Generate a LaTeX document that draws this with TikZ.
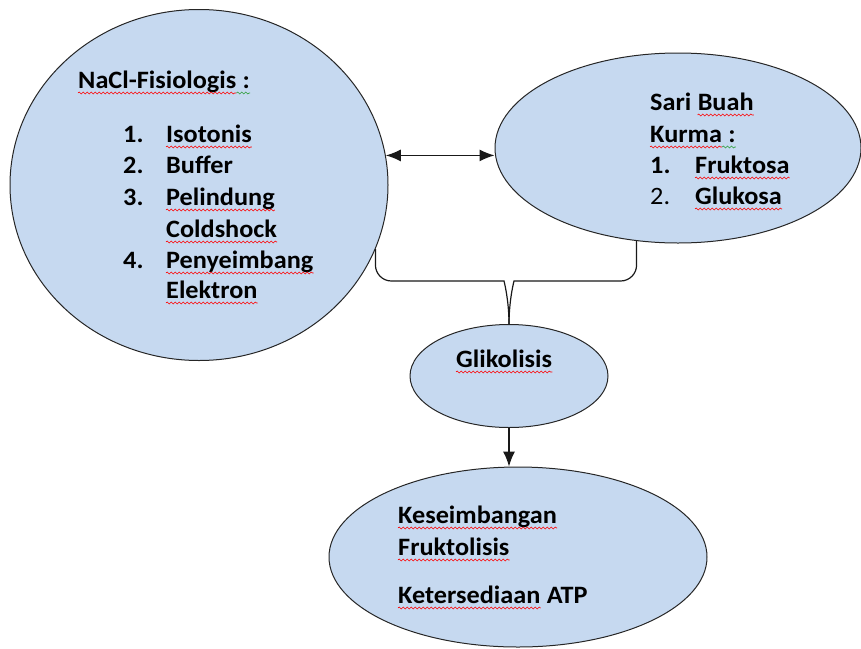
\documentclass[tikz,border=0pt]{standalone}
\usepackage{fontspec}
\setmainfont{Carlito}[FakeStretch=1.05]
\usetikzlibrary{shapes.geometric,arrows.meta,calc,decorations.pathmorphing}
\definecolor{bluefill}{HTML}{C6D9F0}
\definecolor{gramgreen}{HTML}{2E9E3A}
\tikzset{
  blob/.style={ellipse, draw=black!85, fill=bluefill, line width=1pt, inner sep=0pt},
  txt/.style={anchor=base west, inner sep=0pt, font=\fontsize{25}{30}\selectfont\bfseries},
  plain/.style={txt, font=\fontsize{25}{30}\selectfont},
  link/.style={line width=1.2pt, black!90},
  tip/.tip={Latex[length=15pt,width=12pt]},
  wave/.style={red, line width=0.6pt, decorate, decoration={snake, segment length=4pt, amplitude=1pt}},
}
\begin{document}
\begin{tikzpicture}[x=1pt,y=-1pt]
  \useasboundingbox (0,0) rectangle (861,648);
  % the four ellipses
  \node[blob, minimum width=378, minimum height=351] (nacl) at (199,185) {};
  \node[blob, minimum width=366, minimum height=190] (sari) at (678,148) {};
  \node[blob, minimum width=198, minimum height=103] (gly) at (509,376) {};
  \node[blob, minimum width=378, minimum height=180] (atp) at (518,557) {};
  % NaCl list
  \node[txt] (naclhead) at (78,88) {NaCl-Fisiologis};
  \node[txt] (naclcolon) at (naclhead.base east) {\ :};
  \node[txt] (n1) at (123,142) {1.};
  \node[txt] (i1) at (166,142) {Isotonis};
  \node[txt] (n2) at (123,173) {2.};
  \node[txt] (i2) at (166,173) {Buffer};
  \node[txt] (n3) at (123,205) {3.};
  \node[txt] (i3) at (166,205) {Pelindung};
  \node[txt] (i3b) at (166,237) {Coldshock};
  \node[txt] (n4) at (123,268) {4.};
  \node[txt] (i4) at (166,268) {Penyeimbang};
  \node[txt] (i4b) at (166,298) {Elektron};
  % Sari buah kurma list
  \node[txt] (sarihead) at (650,110) {Sari};
  \node[txt] (buah) at ($(sarihead.base east)+(6,0)$) {Buah};
  \node[txt] (kurma) at (650,142) {Kurma};
  \node[txt] (kurmacolon) at (kurma.base east) {\ :};
  \node[txt] (s1) at (650,173) {1.};
  \node[txt] (f1) at (695,173) {Fruktosa};
  \node[plain] (s2) at (650,204) {2.};
  \node[txt] (f2) at (695,204) {Glukosa};
  % lower ellipses
  \node[txt] (glytext) at (456,367) {Glikolisis};
  \node[txt] (a1) at (398,523) {Keseimbangan};
  \node[txt] (a2) at (398,555) {Fruktolisis};
  \node[txt] (a3) at (398,603) {Ketersediaan};
  \node[txt] (a3b) at ($(a3.base east)+(6,0)$) {ATP};
  % spell-check underlines
  \foreach \w in {naclhead,i1,i3,i3b,i4,i4b,buah,kurma,f1,f2,glytext,a1,a2,a3}
    \draw[wave] ($(\w.base west)+(0,5)$) -- ($(\w.base east)+(0,5)$);
  \foreach \w in {naclcolon,kurmacolon}
    \draw[wave,gramgreen] ($(\w.base west)+(0,5)$) -- ($(\w.base east)+(0,5)$);
  % connectors
  \draw[link,tip-tip] (nacl.9) -- (nacl.9 -| sari.west);
  \coordinate (cusp) at (gly.north);
  \draw[link] (nacl.-20) [rounded corners=16pt] |- ($(cusp)+(-21,-43)$) [sharp corners]
    .. controls +(16,0) and +(0,-24) .. (cusp);
  \draw[link] (sari.-114) [rounded corners=16pt] |- ($(cusp)+(21,-43)$) [sharp corners]
    .. controls +(-16,0) and +(0,-24) .. (cusp);
  \draw[link,-tip] (gly.south) -- (gly.south |- atp.north);
\end{tikzpicture}
\end{document}
